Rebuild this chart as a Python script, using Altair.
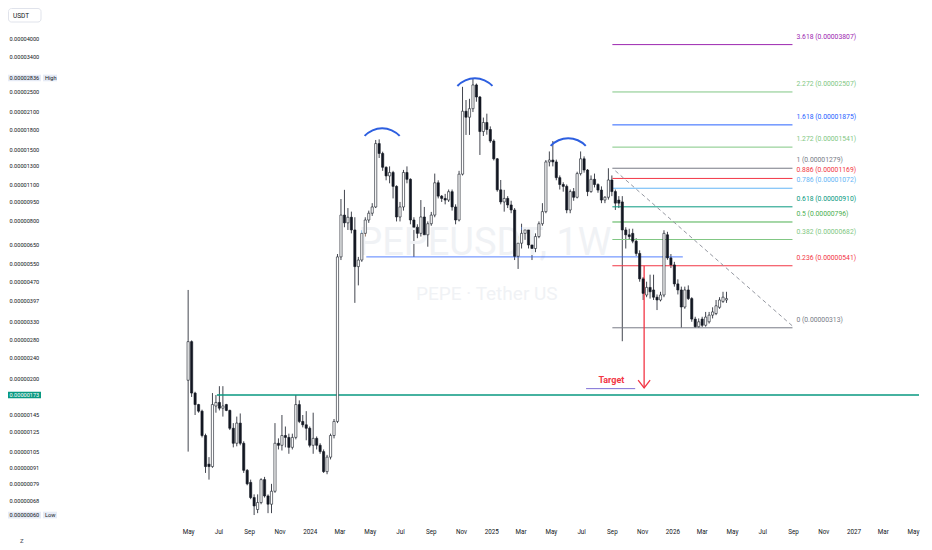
import altair as alt
import pandas as pd

E = 1e-8  # all prices below are in units of 0.00000001 USDT

# ---- weekly candles PEPE/USDT (first week starts 2023-05-01) ----
week_open = [197,277,176,159,150,121,94,92,157,162,154,159,151,129,113,135,113,89,80,70,
             63,67,82,71,66,74,113,111,121,119,109,119,159,137,133,129,111,118,111,105,
             88,100,121,137,585,846,790,830,742,537,569,720,810,860,909,1590,1457,1290,1195,1232,
             1090,832,909,1232,1160,810,760,720,832,711,784,846,1125,1000,980,966,1040,909,810,1214,
             2115,2006,2163,2667,2398,1768,1915,1800,1626,1390,1057,950,980,925,885,588,660,720,742,650,
             630,700,784,872,1352,1375,1352,1177,1108,1090,885,1041,990,1220,1390,1259,1041,1160,1108,1055,
             966,990,1153,1041,966,950,742,711,720,672,603,482,418,447,437,410,400,418,711,580,
             545,461,437,376,437,405,338,316,338,320,330,350,355,375,395,400]
week_high = [437,280,178,160,152,123,100,176,173,187,187,160,152,135,143,147,115,90,82,72,
             72,83,84,72,79,135,118,145,131,123,123,173,165,145,150,131,148,120,113,107,
             102,123,140,600,975,1057,900,872,830,585,740,830,880,940,1641,1650,1480,1300,1300,1250,
             1100,950,1260,1300,1170,830,780,966,909,800,870,1220,1150,1010,1020,1060,1060,930,1250,2623,
             2335,2360,2836,2700,2420,2000,2070,1850,1650,1400,1153,1057,1000,960,900,700,784,760,760,720,
             720,800,940,1375,1483,1626,1380,1200,1130,1108,1060,1074,1240,1483,1420,1270,1200,1220,1120,1090,
             1000,1279,1200,1060,1000,1000,760,750,750,690,620,490,470,500,500,420,430,740,730,600,
             560,480,450,450,455,410,345,340,345,360,360,375,400,410,430,430]
week_low = [105,170,145,148,119,87,82,91,148,151,143,150,127,109,110,111,87,78,69,60,
            61,66,70,61,61,73,107,106,109,103,107,117,135,130,116,109,103,107,103,87,
            86,98,118,135,569,760,742,720,390,455,560,700,790,840,900,1400,1250,1150,1120,980,
            800,800,880,1120,780,585,690,700,690,640,770,830,980,950,930,950,880,780,800,1200,
            1716,1716,2100,2300,1438,1700,1720,1600,1370,1040,930,872,900,860,569,526,630,680,630,569,
            610,690,770,860,1300,1300,1150,1060,1040,860,860,960,980,1200,1230,1000,1030,1080,1030,940,
            940,970,1000,885,900,278,630,680,660,590,470,400,410,405,400,366,395,410,570,530,
            450,420,313,370,400,330,313,313,315,316,325,340,350,370,390,390]
week_close = [277,176,159,150,121,92,92,159,162,154,157,151,129,113,135,113,89,79,70,65,
              67,82,71,66,74,113,111,121,119,109,119,159,137,133,129,111,118,111,105,88,
              100,121,137,585,846,790,830,742,537,569,720,810,860,909,1590,1457,1290,1195,1232,1090,
              832,909,1232,1160,810,760,720,832,711,784,846,1125,1000,980,966,1040,909,810,1214,2115,
              2006,2163,2667,2398,1768,1915,1800,1626,1390,1057,950,980,925,885,588,660,720,742,650,630,
              700,784,872,1352,1375,1352,1177,1108,1090,885,1041,990,1220,1390,1259,1041,1160,1108,1055,966,
              990,1153,1041,940,940,742,711,700,672,603,482,424,447,430,410,400,418,720,580,545,
              461,437,376,437,405,338,316,330,320,344,350,360,380,400,410,405]

# ---- Fibonacci extension levels ----
fib_ratio = ["3.618", "2.272", "1.618", "1.272", "1", "0.886", "0.786", "0.618", "0.5", "0.382", "0.236", "0"]
fib_price = [3807, 2507, 1875, 1541, 1279, 1169, 1072, 910, 796, 682, 541, 313]
fib_color = ["#9c27b0", "#81c784", "#2962ff", "#81c784", "#787b86", "#f23645",
             "#64b5f6", "#089981", "#4caf50", "#81c784", "#f23645", "#787b86"]
fib_start, fib_end, fib_label_at = "2025-09-02", "2026-08-31", "2026-09-08"

# ---- price scale labels ----
axis_vals = [4000, 3400, 2500, 2100, 1800, 1500, 1300, 1100, 950, 800, 650, 550, 470,
             397, 330, 280, 240, 200, 145, 125, 105, 91, 79, 68]
high_val, low_val, support_val = 2836, 60, 173

# ---- annotations ----
neck_price, neck_from, neck_to = 585, "2024-04-24", "2026-01-22"
support_from, domain_from, domain_to = "2023-06-28", "2022-05-13", "2027-05-13"
trend_dates, trend_prices = ["2025-09-08", "2026-08-31"], [1250, 318]
arrow_date, arrow_top, arrow_bottom = "2025-11-05", 541, 184
target_date, target_price = "2025-08-31", 197
target_line_from, target_line_to, target_line_price = "2025-07-11", "2025-10-18", 183
arc_dates = ["2024-05-26", "2024-11-29", "2025-06-05"]
arc_prices = [1472, 2288, 1348]

FONT = "Roboto"
TXT = "#131722"


def ms(s):
    return int(pd.Timestamp(s, tz="UTC").value // 10**6)


xs = alt.Scale(type="utc", domain=[ms(domain_from), ms(domain_to)])
ys = alt.Scale(type="log", domain=[5.642e-7, 5.258e-5], nice=False, zero=False)

start = pd.Timestamp("2023-05-01")
dates = [(start + pd.Timedelta(weeks=i)).strftime("%Y-%m-%d") for i in range(len(week_open))]
candles = pd.DataFrame({
    "date": dates,
    "open": [v * E for v in week_open],
    "high": [v * E for v in week_high],
    "low": [v * E for v in week_low],
    "close": [v * E for v in week_close],
})
candles["fc"] = ["#ffffff" if c >= o else TXT for o, c in zip(candles.open, candles.close)]

tick_dates = []
y0, m0 = 2023, 5
while (y0, m0) <= (2027, 5):
    tick_dates.append(alt.DateTime(year=y0, month=m0, date=1, utc=True))
    m0 += 2
    if m0 > 12:
        m0 -= 12
        y0 += 1

xaxis = alt.Axis(values=tick_dates, domain=False, ticks=False, grid=False, title=None,
                 labelExpr="utcFormat(datum.value, '%m') == '01' ? utcFormat(datum.value, '%Y') : utcFormat(datum.value, '%b')",
                 labelFontSize=6.3, labelFont=FONT, labelColor=TXT, labelPadding=6.5,
                 labelOverlap=False, labelFlush=False)


def X(f):
    return alt.X(f, scale=xs, axis=xaxis, title=None)


def Y(f):
    return alt.Y(f, scale=ys, axis=None)


# watermark
wm = pd.DataFrame({"date": ["2024-12-19", "2024-12-23"], "price": [655 * E, 423 * E],
                   "t": ["PEPEUSDT, 1W", "PEPE · Tether US"]})
watermark1 = alt.Chart(wm.iloc[[0]]).mark_text(font=FONT, fontSize=38, color="#f0f2f5", align="center",
                                               baseline="middle").encode(x=X("date:T"), y=Y("price:Q"), text="t:N")
watermark2 = alt.Chart(wm.iloc[[1]]).mark_text(font=FONT, fontSize=19, color="#f0f2f5", align="center",
                                               baseline="middle").encode(x=X("date:T"), y=Y("price:Q"), text="t:N")

# fib levels
fib = pd.DataFrame({"ratio": fib_ratio, "price": [p * E for p in fib_price], "color": fib_color})
fib["x0"], fib["x1"], fib["xl"] = fib_start, fib_end, fib_label_at
fib["label"] = [f"{r} ({p * E:.8f})" for r, p in zip(fib_ratio, fib_price)]
fib_lines = alt.Chart(fib).mark_rule(strokeWidth=1).encode(
    x=X("x0:T"), x2="x1:T", y=Y("price:Q"), color=alt.Color("color:N", scale=None))
fib_text = alt.Chart(fib).mark_text(font=FONT, fontSize=6.8, align="left", baseline="middle", dy=-8).encode(
    x=X("xl:T"), y=Y("price:Q"), text="label:N", color=alt.Color("color:N", scale=None))

# neckline and support
hl = pd.DataFrame({"x0": [neck_from], "x1": [neck_to], "price": [neck_price * E]})
neck = alt.Chart(hl).mark_rule(strokeWidth=1, color="#2962ff", opacity=0.8).encode(
    x=X("x0:T"), x2="x1:T", y=Y("price:Q"))
sup = pd.DataFrame({"x0": [support_from], "x1": [domain_to], "price": [support_val * E]})
support = alt.Chart(sup).mark_rule(strokeWidth=1.6, color="#089981").encode(
    x=X("x0:T"), x2="x1:T", y=Y("price:Q"))

# dashed trend line
tr = pd.DataFrame({"date": trend_dates, "price": [p * E for p in trend_prices]})
trend = alt.Chart(tr).mark_line(strokeDash=[4, 3], strokeWidth=1, color="#9598a1").encode(
    x=X("date:T"), y=Y("price:Q"))

# target arrow
ar = pd.DataFrame({"date": [arrow_date], "top": [arrow_top * E], "bottom": [arrow_bottom * E]})
arrow = alt.Chart(ar).mark_rule(strokeWidth=1.3, color="#f23645").encode(
    x=X("date:T"), y=Y("top:Q"), y2="bottom:Q")
arrow_head = alt.Chart(ar).mark_point(shape="M-1,-1.3L0,0L1,-1.3", filled=False, size=144,
                                      strokeWidth=1.3, color="#f23645", opacity=1).encode(
    x=X("date:T"), y=Y("bottom:Q"))
tg = pd.DataFrame({"date": [target_date], "price": [target_price * E], "t": ["Target"],
                   "x0": [target_line_from], "x1": [target_line_to], "lp": [target_line_price * E]})
target_text = alt.Chart(tg).mark_text(font=FONT, fontSize=9, fontWeight="bold", color="#f23645",
                                      align="center", baseline="middle").encode(
    x=X("date:T"), y=Y("price:Q"), text="t:N")
target_line = alt.Chart(tg).mark_rule(strokeWidth=1, color="#7e6fd6").encode(
    x=X("x0:T"), x2="x1:T", y=Y("lp:Q"))

# head & shoulders arcs
arcs_df = pd.DataFrame({"date": arc_dates, "price": [p * E for p in arc_prices]})
arcs = alt.Chart(arcs_df).mark_arc(theta=5.463, theta2=7.103, radius=25, radius2=23, color="#2d5fe0").encode(
    x=X("date:T"), y=Y("price:Q"))

# candles
wicks = alt.Chart(candles).mark_rule(strokeWidth=0.8, color=TXT).encode(
    x=X("date:T"), y=Y("low:Q"), y2="high:Q")
bodies = alt.Chart(candles).mark_bar(size=2.2, stroke=TXT, strokeWidth=0.6).encode(
    x=X("date:T"), y=Y("open:Q"), y2="close:Q", fill=alt.Fill("fc:N", scale=None))

# left price scale
plain = pd.DataFrame({"price": [v * E for v in axis_vals]})
plain["label"] = [f"{v * E:.8f}" for v in axis_vals]
price_labels = alt.Chart(plain).mark_text(font=FONT, fontSize=5.6, align="left", baseline="middle",
                                          color=TXT).encode(x=alt.value(1.5), y=Y("price:Q"), text="label:N")

BOX = 1.03
spec = pd.DataFrame({"price": [high_val * E, low_val * E, support_val * E],
                     "label": [f"{v * E:.8f}" for v in (high_val, low_val, support_val)],
                     "tag": ["High", "Low", ""],
                     "bg": ["#e6ebf6", "#e6ebf6", "#089981"],
                     "fg": [TXT, TXT, "#ffffff"]})
spec["lo"] = spec.price / BOX
spec["hi"] = spec.price * BOX
spec_box = alt.Chart(spec).mark_rect().encode(
    x=alt.value(0), x2=alt.value(33), y=Y("lo:Q"), y2="hi:Q", fill=alt.Fill("bg:N", scale=None))
spec_text = alt.Chart(spec).mark_text(font=FONT, fontSize=5.6, align="left", baseline="middle").encode(
    x=alt.value(1.5), y=Y("price:Q"), text="label:N", color=alt.Color("fg:N", scale=None))
tags = spec.iloc[:2]
tag_box = alt.Chart(tags).mark_rect().encode(
    x=alt.value(35), x2=alt.value(49), y=Y("lo:Q"), y2="hi:Q", fill=alt.Fill("bg:N", scale=None))
tag_text = alt.Chart(tags).mark_text(font=FONT, fontSize=5.6, align="left", baseline="middle", color=TXT).encode(
    x=alt.value(37), y=Y("price:Q"), text="tag:N")

# currency box and bottom-left marker
ui = pd.DataFrame({"t": ["USDT"]})
usdt_box = alt.Chart(ui).mark_rect(fill="#ffffff", stroke="#e0e3eb", strokeWidth=1, cornerRadius=3).encode(
    x=alt.value(0.5), x2=alt.value(33), y=alt.value(0.5), y2=alt.value(14))
usdt_text = alt.Chart(ui).mark_text(font=FONT, fontSize=6.5, align="left", baseline="middle", color=TXT).encode(
    x=alt.value(5), y=alt.value(7.5), text="t:N")
zi = pd.DataFrame({"t": ["Z"]})
z_text = alt.Chart(zi).mark_text(font=FONT, fontSize=6, align="center", baseline="middle", color="#50535e").encode(
    x=alt.value(13.7), y=alt.value(533), text="t:N")

chart = alt.layer(
    wicks, watermark1, watermark2, fib_lines, neck, support, trend, target_line, arrow, arrow_head,
    bodies, arcs, fib_text, target_text,
    price_labels, spec_box, spec_text, tag_box, tag_text, usdt_box, usdt_text, z_text
).properties(width=916, height=514, padding=0, background="#ffffff").configure_view(stroke=None)

chart.save("out.html", embed_options={"renderer": "svg", "actions": False})
